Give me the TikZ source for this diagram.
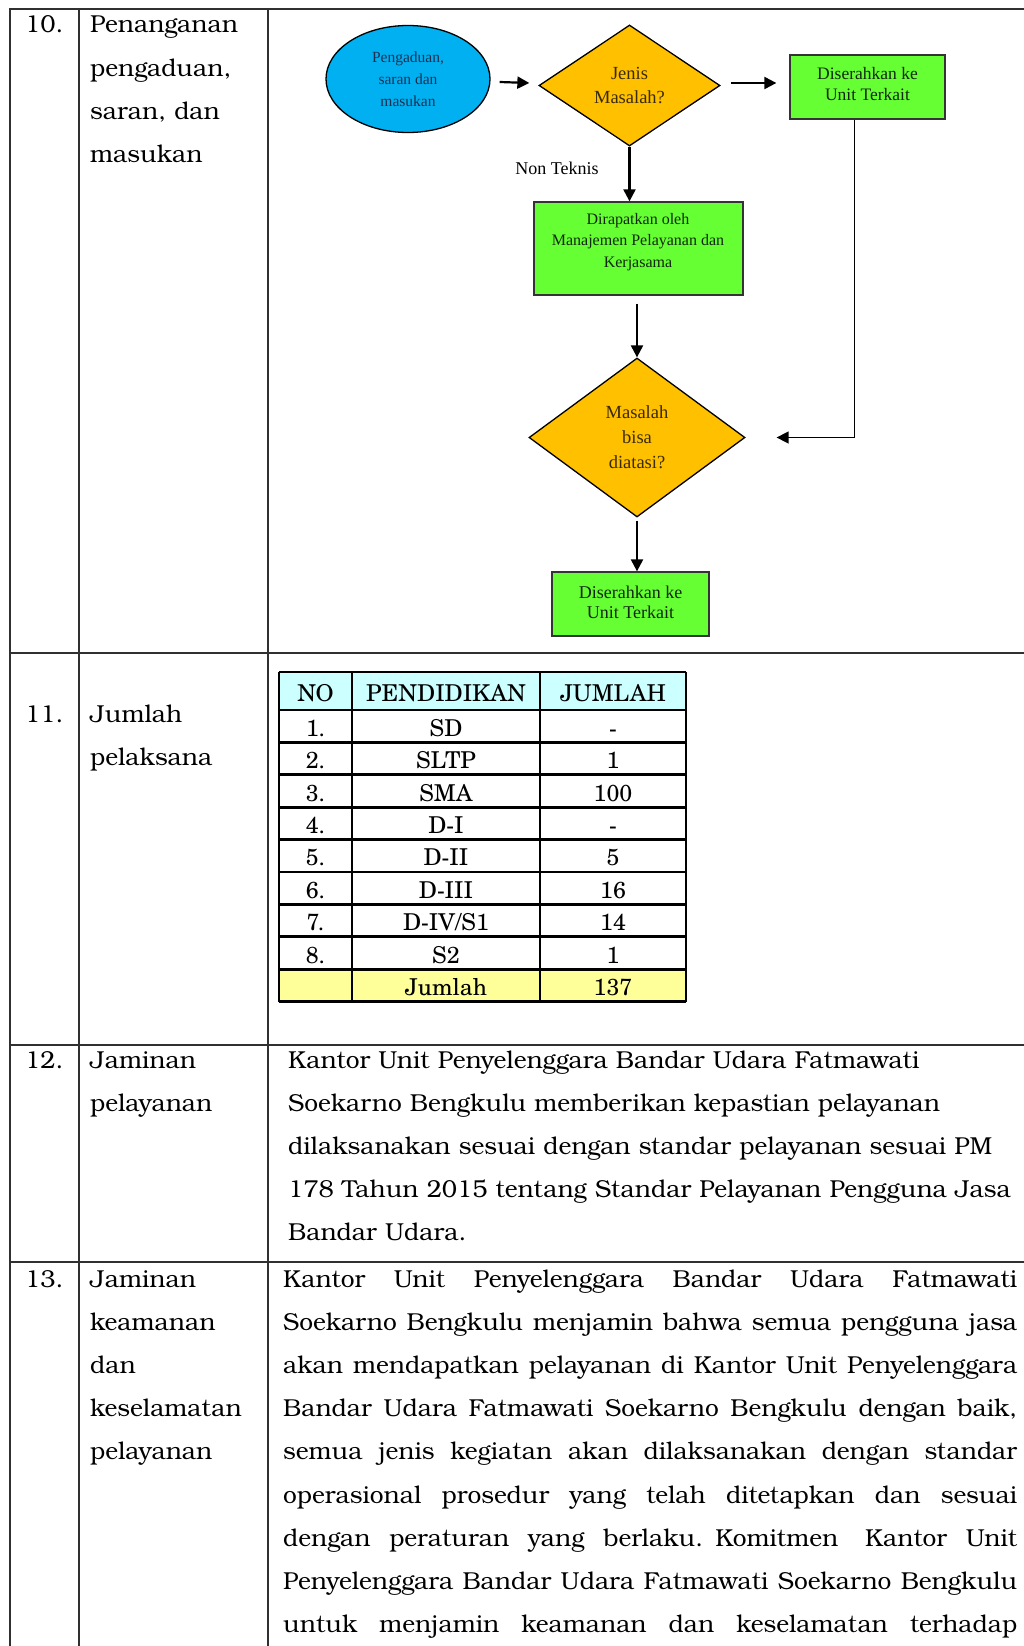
\documentclass[tikz,border=0pt]{standalone}
\usepackage{fontspec}
\setmainfont{TeX Gyre Bonum}
\newfontfamily\tnr{Liberation Serif}
\newfontfamily\schola{TeX Gyre Schola}
\usetikzlibrary{shapes.geometric,arrows.meta}
\definecolor{ellblue}{HTML}{00B0F0}
\definecolor{dorange}{HTML}{FFC000}
\definecolor{bgreen}{HTML}{66FF33}
\definecolor{hdrcyan}{HTML}{CCFFFF}
\definecolor{sumyel}{HTML}{FFFF99}
\definecolor{gridgray}{HTML}{303030}
\definecolor{navytxt}{HTML}{1F3050}
\definecolor{browntxt}{HTML}{3A2A05}
\definecolor{greentxt}{HTML}{102810}
\newcommand\jline[1]{\leavevmode\hbox to 734pt{\spaceskip=0.28em plus 1fil\relax #1}\par}
\begin{document}
\begin{tikzpicture}[x=1pt,y=-1pt,
  gridline/.style={draw=gridgray,line width=2pt},
  tline/.style={draw=black,line width=2.7pt},
  body/.style={anchor=base west,inner sep=0pt,font=\fontsize{24.5}{43.2}\selectfont},
  para/.style={body,align=left},
  ell/.style={ellipse,draw=black,line width=1.3pt,fill=ellblue,minimum width=164pt,minimum height=107pt,inner sep=0pt,align=center,text=navytxt,font=\tnr\fontsize{15.5}{22}\selectfont},
  dia/.style={diamond,draw=black,line width=1.3pt,fill=dorange,inner sep=0pt,aspect=1.5,align=center,text=browntxt},
  gbox/.style={rectangle,draw=black!80,line width=1.3pt,fill=bgreen,inner sep=0pt,align=center,text=greentxt},
  ftext/.style={inner sep=0pt,align=center,text=greentxt},
  arr/.style={draw=black,line width=2.2pt,-{Triangle[length=12pt,width=12pt]}},
  cell/.style={anchor=base,inner sep=0pt,font=\schola\fontsize{23.2}{27}\selectfont}]
\useasboundingbox (0,0) rectangle (1024,1646);

% page grid
\draw[gridline] (10,1646) -- (10,9) -- (1024,9);
\draw[gridline] (79,9) -- (79,1646);
\draw[gridline] (268,9) -- (268,1646);
\foreach \yy in {653,1045,1262} \draw[gridline] (10,\yy) -- (1024,\yy);

% row 10
\node[body] (n10) at (25,33) {10.};
\node[para,text width=175pt] (l10) at (90,33) {Penanganan\\pengaduan,\\saran, dan\\masukan};

% flowchart
\node[ell] (e) at (408,79) {Pengaduan,\\saran dan\\masukan};
\node[dia,minimum width=181pt,minimum height=121pt,font=\tnr\fontsize{18.5}{24}\selectfont] (d1) at (629.5,85.5) {Jenis\\Masalah?};
\node[gbox,minimum width=155pt,minimum height=64pt] (b1) at (867.5,87) {};
\node[ftext,font=\tnr\fontsize{17.5}{21}\selectfont] (b1t) at (867.5,84.5) {Diserahkan ke\\Unit Terkait};
\node[gbox,minimum width=209pt,minimum height=93pt] (b2) at (638.5,248.5) {};
\node[ftext,font=\tnr\fontsize{16}{21.5}\selectfont] (b2t) at (638,242) {Dirapatkan oleh\\Manajemen Pelayanan dan\\Kerjasama};
\node[dia,minimum width=216pt,minimum height=159pt,font=\tnr\fontsize{18.5}{25}\selectfont] (d2) at (637,437.5) {Masalah\\bisa\\diatasi?};
\node[gbox,minimum width=157pt,minimum height=64pt] (b3) at (630.5,604) {};
\node[ftext,font=\tnr\fontsize{18}{20}\selectfont] (b3t) at (630.5,602) {Diserahkan ke\\Unit Terkait};
\node[inner sep=0pt,font=\tnr\fontsize{18}{20}\selectfont] (nt) at (557,168) {Non Teknis};

\draw[arr] ([shift={(9,3)}]e.east) -- ([shift={(-9,-2.5)}]d1.west);
\draw[arr] ([shift={(10,-2.5)}]d1.east) -- ([shift={(-13,-4)}]b1.west);
\draw[arr] (d1.south) -- (d1.south |- b2.north);
\draw[arr,shorten <=8pt] (b2.south -| d2.north) -- (d2.north);
\draw[arr,shorten <=3pt] (d2.south) -- (d2.south |- b3.north);
\draw[arr,line width=1.6pt] ([xshift=-13pt]b1.south) |- ([xshift=31pt]d2.east);

% row 11
\node[body] (n11) at (25,722) {11.};
\node[para,text width=175pt] (l11) at (90,722) {Jumlah\\pelaksana};

\fill[hdrcyan] (279,672) rectangle (686,710);
\fill[sumyel] (279,969.2) rectangle (686,1001.6);
\foreach \yy in {672,710,742.4,774.8,807.2,839.6,872,904.4,936.8,969.2,1001.6}
  \draw[tline] (279,\yy) -- (686,\yy);
\foreach \xx in {279,352,540,686}
  \draw[tline] (\xx,672) -- (\xx,1001.6);
\node[cell] (hno) at (315.5,701) {NO};
\node[cell] (hpd) at (446,701) {PENDIDIKAN};
\node[cell] (hjm) at (613,701) {JUMLAH};
\foreach \no/\pd/\jm [count=\i] in {1./SD/-,2./SLTP/1,3./SMA/100,4./D-I/-,5./D-II/5,6./D-III/16,7./D-IV\slash S1/14,8./S2/1}{
  \pgfmathsetmacro{\by}{710+32.4*(\i-1)+16.2+10}
  \node[cell] (no\i) at (315.5,\by) {\no};
  \node[cell] (pd\i) at (446,\by) {\pd};
  \node[cell] (jm\i) at (613,\by) {\jm};
}
\node[cell] (sumlbl) at (446,995.4) {Jumlah};
\node[cell] (sumval) at (613,995.4) {137};

% row 12
\node[body] (n12) at (25,1068) {12.};
\node[para,text width=175pt] (l12) at (90,1068) {Jaminan\\pelayanan};
\node[para,text width=800pt] (t12) at (288,1068) {Kantor Unit Penyelenggara Bandar Udara Fatmawati\\Soekarno Bengkulu memberikan kepastian pelayanan\\dilaksanakan sesuai dengan standar pelayanan sesuai PM\\178 Tahun 2015 tentang Standar Pelayanan Pengguna Jasa\\Bandar Udara.};

% row 13
\node[body] (n13) at (25,1287) {13.};
\node[para,text width=175pt] (l13) at (90,1287) {Jaminan\\keamanan\\dan\\keselamatan\\pelayanan};
\node[para,text width=734pt] (t13) at (283,1287) {%
\jline{Kantor Unit Penyelenggara Bandar Udara Fatmawati}
\jline{Soekarno Bengkulu menjamin bahwa semua pengguna jasa}
\jline{akan mendapatkan pelayanan di Kantor Unit Penyelenggara}
\jline{Bandar Udara Fatmawati Soekarno Bengkulu dengan baik,}
\jline{semua jenis kegiatan akan dilaksanakan dengan standar}
\jline{operasional prosedur yang telah ditetapkan dan sesuai}
\jline{dengan peraturan yang berlaku. Komitmen\hspace{8pt} Kantor Unit}
\jline{Penyelenggara Bandar Udara Fatmawati Soekarno Bengkulu}
\jline{untuk menjamin keamanan dan keselamatan terhadap}};
\end{tikzpicture}
\end{document}
